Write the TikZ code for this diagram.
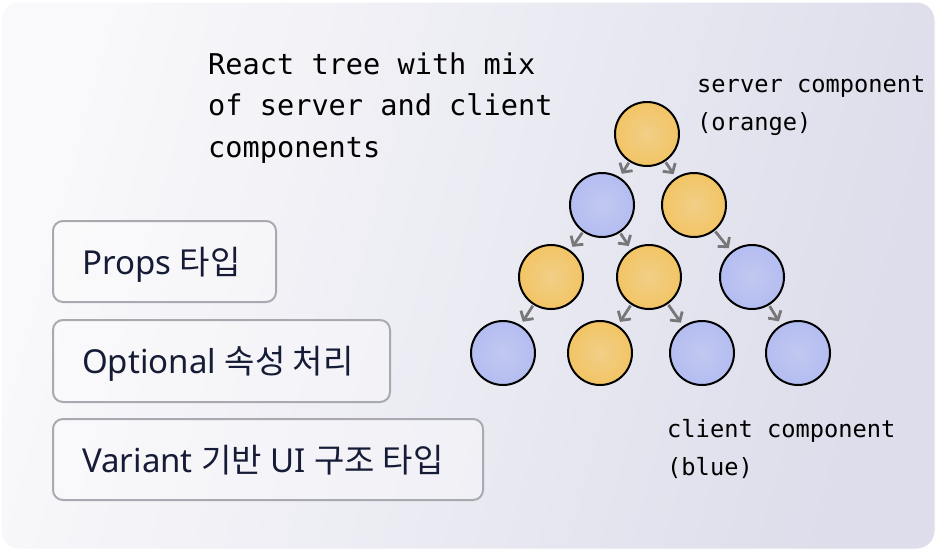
\documentclass[tikz,border=0pt]{standalone}
\usepackage{fontspec}
\setmainfont{Noto Sans}
\newfontfamily\kr{Noto Sans CJK KR}
\newfontfamily\mono{DejaVu Sans Mono}
\usetikzlibrary{arrows.meta}
\definecolor{orngout}{HTML}{F2C464}
\definecolor{orngin}{HTML}{F1CF88}
\definecolor{blueout}{HTML}{B4BDF1}
\definecolor{bluein}{HTML}{C2C8F0}
\definecolor{arrgray}{HTML}{77777A}
\definecolor{boxline}{HTML}{A9A9B2}
\definecolor{navy}{HTML}{161B36}
\definecolor{bgA}{HTML}{F9F9FB}
\definecolor{bgB}{HTML}{DDDDEB}
\tikzset{
  srv/.style={circle, draw=black, line width=2pt, minimum size=64pt, inner sep=0pt, inner color=orngin, outer color=orngout},
  cli/.style={circle, draw=black, line width=2pt, minimum size=64pt, inner sep=0pt, inner color=bluein, outer color=blueout},
  edge/.style={draw=arrgray, line width=2.8pt, shorten <=1pt, shorten >=4pt, -{Straight Barb[length=6.5pt,width=15pt,line width=2.8pt]}},
  pbox/.style={draw=boxline, line width=2pt, rounded corners=10pt, fill=white, fill opacity=0.35, text opacity=1, inner sep=0pt, anchor=north west},
  ptext/.style={anchor=base west, inner sep=0pt, text=navy, font=\fontsize{33}{38}\selectfont},
  title/.style={anchor=base west, inner sep=0pt, text=black, font=\mono\fontsize{28.6}{42}\selectfont},
  lbl/.style={anchor=base west, inner sep=0pt, text=black, font=\mono\fontsize{23.7}{38}\selectfont}
}
\begin{document}
\begin{tikzpicture}[x=1pt,y=-1pt]
\useasboundingbox (0,0) rectangle (939,552);
\fill[white] (0,0) rectangle (939,552);
\shade[rounded corners=18pt, left color=bgA, right color=bgB, shading angle=75] (1,2) rectangle (935,549);
\draw[rounded corners=18pt, draw=white, line width=1pt] (1,2) rectangle (935,549);

% title
\node[title] (t1) at (208,74) {React tree with mix};
\node[title] (t2) at (208,115) {of server and client};
\node[title] (t3) at (208,157) {components};

% legend labels
\node[lbl] (s1) at (697,92) {server component};
\node[lbl] (s2) at (697,130) {(orange)};
\node[lbl] (c1) at (667,437) {client component};
\node[lbl] (c2) at (667,475) {(blue)};

% boxes
\node[pbox, minimum width=223pt, minimum height=81pt] (b1) at (52,220) {};
\node[pbox, minimum width=337pt, minimum height=82pt] (b2) at (52,319) {};
\node[pbox, minimum width=430pt, minimum height=81pt] (b3) at (52,418) {};
\node[ptext] (p1) at ([xshift=30pt,yshift=-12.5pt]b1.west) {Props {\kr 타입}};
\node[ptext] (p2) at ([xshift=30pt,yshift=-12.5pt]b2.west) {Optional {\kr 속성 처리}};
\node[ptext] (p3) at ([xshift=30pt,yshift=-12.5pt]b3.west) {Variant {\kr 기반} UI {\kr 구조 타입}};

% tree
\node[srv] (r) at (647,134) {};
\node[cli] (a1) at (602,205) {};
\node[srv] (a2) at (694,205) {};
\node[srv] (b1n) at (551,277) {};
\node[srv] (b2n) at (649,277) {};
\node[cli] (b3n) at (752,277) {};
\node[cli] (d1) at (503,353) {};
\node[srv] (d2) at (600,353) {};
\node[cli] (d3) at (702,353) {};
\node[cli] (d4) at (798,353) {};

\draw[edge] (r) -- (a1);
\draw[edge] (r) -- (a2);
\draw[edge] (a1) -- (b1n);
\draw[edge] (a1) -- (b2n);
\draw[edge] (a2) -- (b3n);
\draw[edge] (b1n) -- (d1);
\draw[edge] (b2n) -- (d2);
\draw[edge] (b2n) -- (d3);
\draw[edge] (b3n) -- (d4);
\end{tikzpicture}
\end{document}
